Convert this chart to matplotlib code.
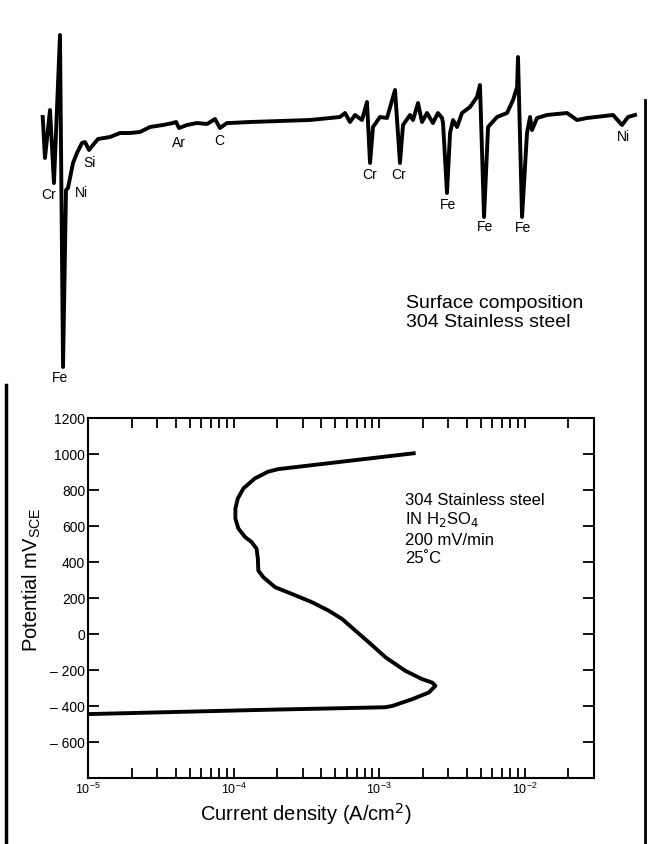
import matplotlib.pyplot as plt
from matplotlib.ticker import LogLocator, NullFormatter
from matplotlib.lines import Line2D

plt.rcParams['font.family'] = ['Liberation Sans', 'DejaVu Sans']

# Auger spectrum (kinetic energy in eV, derivative signal in arbitrary units)
energy = [26.0, 29.2, 36.3, 41.9, 50.4, 54.7, 58.9, 61.7, 68.8, 74.4, 81.5, 85.7, 91.4, 97.0,
          104.1, 121.0, 135.2, 149.3, 163.4, 177.5, 195.9, 210.0, 214.3, 218.5, 229.8, 243.9,
          258.1, 269.4, 276.3, 286.3, 290.5, 318.8, 361.2, 403.5, 431.8, 445.9, 453.0, 460.0,
          467.1, 477.0, 484.0, 488.3, 492.5, 502.4, 512.3, 523.6, 530.6, 534.9, 544.8, 549.0,
          556.1, 561.7, 568.8, 577.1, 584.2, 590.0, 591.4, 597.0, 601.3, 605.5, 611.2, 618.2,
          629.5, 639.4, 643.6, 649.3, 655.0, 667.7, 681.8, 690.3, 696.0, 697.3, 703.0, 710.0,
          714.3, 717.1, 724.2, 738.3, 766.5, 780.6, 794.8, 831.5, 844.2, 852.7, 862.6]
signal = [33, -8, 40, -33, 115, -217, -40, -38, -13, -3, 7, 8, 0, 5,
          11, 13, 17, 17, 18, 23, 25, 27, 28, 22, 25, 27,
          26, 31, 22, 27, 27, 28, 29, 30, 32, 33, 37, 28,
          35, 30, 48, -13, 23, 33, 32, 60, -13, 25, 35, 30,
          47, 28, 37, 27, 37, 32, 27, -43, 17, 30, 23, 37,
          43, 53, 65, -67, 23, 33, 37, 50, 63, 93, -67, 17,
          33, 20, 32, 35, 37, 30, 32, 35, 25, 33, 35]

peak_names = ['Cr', 'Ni', 'Fe', 'Si', 'Ar', 'C', 'Cr', 'Cr', 'Fe', 'Fe', 'Fe', 'Ni']
peak_label_e = [33.9, 81.1, 50.4, 92.8, 218.5, 275.0, 488.0, 529.0, 598.0, 650.7, 704.0, 845.6]
peak_label_y = [-45, -43, -228, -13, 7, 9, -25, -25, -55, -77, -78, 13]

# anodic polarization curve
current = [1.0e-5, 1.48e-4, 1.10e-3, 1.23e-3, 1.69e-3, 2.20e-3, 2.44e-3, 2.32e-3, 1.98e-3,
           1.52e-3, 1.11e-3, 8.5e-4, 6.87e-4, 5.56e-4, 4.50e-4, 3.45e-4, 2.51e-4, 1.93e-4,
           1.60e-4, 1.48e-4, 1.47e-4, 1.44e-4, 1.33e-4, 1.20e-4, 1.08e-4, 1.03e-4, 1.03e-4,
           1.07e-4, 1.17e-4, 1.40e-4, 1.73e-4, 2.03e-4, 1.73e-3]
potential = [-445, -422, -407, -400, -362, -325, -288, -270, -251,
             -205, -130, -46, 19, 84, 130, 177, 223, 260,
             316, 353, 418, 474, 511, 539, 586, 641, 697,
             753, 809, 864, 902, 916, 1004]

ytick_vals = [1200, 1000, 800, 600, 400, 200, 0, -200, -400, -600]
ytick_text = ['1200', '1000', '800', '600', '400', '200', '0', '\u2013 200', '\u2013 400', '\u2013 600']

fig = plt.figure(figsize=(6.5, 8.44), dpi=100)

# top panel: spectrum, no axes
ax1 = fig.add_axes([30 / 650, 1 - 390 / 844, 610 / 650, 370 / 844])
ax1.plot(energy, signal, color='black', lw=2.8, solid_joinstyle='round')
ax1.set_xlim(8.05, 869.6)
ax1.set_ylim(-240, 130)
ax1.axis('off')
for name, e, y in zip(peak_names, peak_label_e, peak_label_y):
    ax1.text(e, y, name, fontsize=10, ha='center', va='center')
ax1.text(538.6, -153, 'Surface composition', fontsize=14, ha='left', va='center')
ax1.text(538.6, -172, '304 Stainless steel', fontsize=14, ha='left', va='center')

# bottom panel: polarization curve
ax2 = fig.add_axes([88 / 650, 1 - 778 / 844, 506 / 650, 360 / 844])
ax2.plot(current, potential, color='black', lw=2.8, solid_joinstyle='round')
ax2.set_xscale('log')
ax2.set_xlim(1e-5, 3e-2)
ax2.set_ylim(-800, 1200)
ax2.xaxis.set_major_locator(LogLocator(base=10))
ax2.xaxis.set_minor_locator(LogLocator(base=10, subs=range(2, 10)))
ax2.xaxis.set_minor_formatter(NullFormatter())
ax2.set_yticks(ytick_vals)
ax2.set_yticklabels(ytick_text)
ax2.tick_params(which='both', direction='in', top=True, right=True, width=1.3)
ax2.tick_params(axis='x', which='both', length=7, pad=3, labelsize=9)
ax2.tick_params(axis='y', length=8, pad=2, labelsize=10)
for s in ax2.spines.values():
    s.set_linewidth(1.5)

ax2.set_xlabel('Current density (A/cm$^2$)', fontsize=14.5, va='center')
ax2.xaxis.set_label_coords(0.431, -0.1)
ax2.set_ylabel('Potential mV$_{\\mathregular{SCE}}$', fontsize=14.5, va='center')
ax2.yaxis.set_label_coords(-0.111, 0.55)

ax2.text(0.626, 0.772, '304 Stainless steel', transform=ax2.transAxes, fontsize=12, va='center')
ax2.text(0.626, 0.717, 'IN H$_2$SO$_4$', transform=ax2.transAxes, fontsize=12, va='center')
ax2.text(0.626, 0.661, '200 mV/min', transform=ax2.transAxes, fontsize=12, va='center')
ax2.text(0.626, 0.611, '25\u02daC', transform=ax2.transAxes, fontsize=12, va='center')

# page edges visible in the scan
fig.add_artist(Line2D([6 / 650, 6 / 650], [0, 1 - 385 / 844], color='black', lw=2.5))
fig.add_artist(Line2D([645 / 650, 645 / 650], [0, 1 - 100 / 844], color='black', lw=2))

fig.savefig('out.png', dpi=100)
